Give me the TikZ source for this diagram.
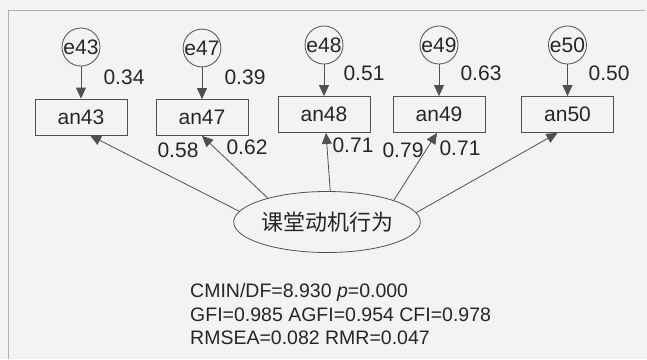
\documentclass[tikz,border=0pt]{standalone}
\usepackage{fontspec}
\setmainfont{Liberation Sans}
\newfontfamily\cjk{Noto Sans CJK SC}
\usetikzlibrary{arrows.meta,shapes.geometric}
\definecolor{bg}{RGB}{243,243,243}
\definecolor{ln}{RGB}{80,80,80}
\definecolor{tx}{RGB}{38,38,38}
\definecolor{fr}{RGB}{175,175,175}
\begin{document}
\begin{tikzpicture}[x=1pt,y=-1pt,
 obs/.style={draw=ln, line width=0.8pt, minimum width=92pt, minimum height=36pt, inner sep=0pt, font=\fontsize{21}{24}\selectfont, text=tx},
 err/.style={circle, draw=ln, line width=0.8pt, minimum size=36pt, inner sep=0pt, font=\fontsize{21}{24}\selectfont, text=tx},
 lat/.style={ellipse, draw=ln, line width=0.8pt, minimum width=185pt, minimum height=61pt, inner sep=0pt, font=\cjk\fontsize{22}{26}\selectfont, text=tx},
 lbl/.style={font=\fontsize{21}{24}\selectfont, text=tx, inner sep=0pt},
 fitstat/.style={font=\fontsize{19.5}{23}\selectfont, text=tx, inner sep=0pt, anchor=west},
 arr/.style={draw=ln, line width=0.8pt, -{Triangle[length=11pt,width=10pt]}}
]
\fill[bg] (0,0) rectangle (647,359);
\useasboundingbox (0,0) rectangle (647,359);
\draw[fr, line width=1pt] (8,359) -- (8,10) -- (645,10);

\node[err] (e43) at (81,47) {e43};
\node[err] (e47) at (202,48) {e47};
\node[err] (e48) at (324,45) {e48};
\node[err] (e49) at (439,45) {e49};
\node[err] (e50) at (567.5,45) {e50};

\node[obs] (an43) at (81,117) {an43};
\node[obs] (an47) at (202,117.5) {an47};
\node[obs] (an48) at (324,114.5) {an48};
\node[obs] (an49) at (439,114.5) {an49};
\node[obs] (an50) at (567.5,114.5) {an50};

\foreach \i in {43,47,48,49,50} {\draw[arr] (e\i) -- (an\i);}

\node[lat] (lat) at (327,222) {课堂动机行为};

\draw[arr] (lat.173) -- ([xshift=9pt]an43.south);
\draw[arr] (lat.158) -- (an47.south);
\draw[arr] (lat.84) -- ([xshift=2pt]an48.south);
\draw[arr] (lat.18) -- ([xshift=-2pt]an49.south);
\draw[arr] (lat.6) -- ([xshift=-10pt]an50.south);

\node[lbl] (r43) at (124,77) {0.34};
\node[lbl] (r47) at (245,77) {0.39};
\node[lbl] (r48) at (364,73) {0.51};
\node[lbl] (r49) at (481,73) {0.63};
\node[lbl] (r50) at (609,73) {0.50};

\node[lbl] (w43) at (178,150) {0.58};
\node[lbl] (w47) at (247,147) {0.62};
\node[lbl] (w48) at (353,145) {0.71};
\node[lbl] (w49) at (403,150) {0.79};
\node[lbl] (w50) at (460,148) {0.71};

\node[fitstat] (f1) at (190,292) {CMIN/DF=8.930 \textit{p}=0.000};
\node[fitstat] (f2) at (190,315) {GFI=0.985 AGFI=0.954 CFI=0.978};
\node[fitstat] (f3) at (190,338) {RMSEA=0.082 RMR=0.047};
\end{tikzpicture}
\end{document}
